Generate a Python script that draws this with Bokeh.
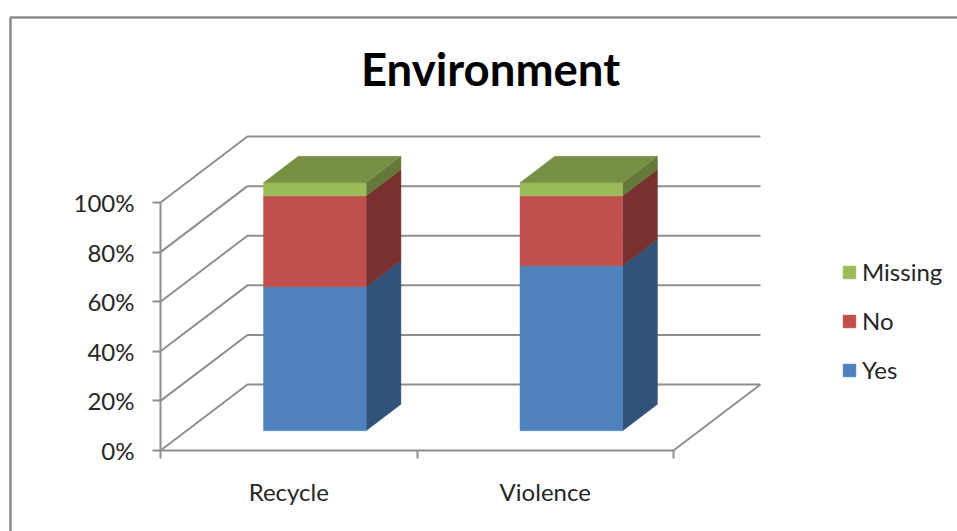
from bokeh.embed import file_html
from bokeh.resources import INLINE
from bokeh.plotting import figure
from bokeh.models import (BoxAnnotation, FixedTicker, Label, Legend, LegendItem,
                          PrintfTickFormatter)

categories = ["Recycle", "Violence"]
series_names = ["Yes", "No", "Missing"]
yes_values = [58.0, 66.5]
no_values = [36.7, 28.2]
missing_values = [5.3, 5.3]
y_ticks = [0, 20, 40, 60, 80, 100]

front_colors = ["#4F81BD", "#C0504D", "#9BBB59"]
side_colors = ["#325379", "#79302E", "#64783A"]
top_color = "#779044"
line_color = "#8E8E8E"
text_color = "#262626"
font = "Lato"
RULE_WIDTH = 2

# the frame fills the page; the axes are pinned at the origin of the data
X_RANGE = (-0.6238, 3.1072)
Y_RANGE = (-32.66, 181.45)
# oblique projection of the depth axis, in data units per unit of depth
DEPTH_X = 0.339
DEPTH_Y = 26.6
BAR_LEFT, BAR_RIGHT = 0.3, 0.7
BAR_NEAR, BAR_FAR = 0.3, 0.7


def project(x, y, z):
    return x + z * DEPTH_X, y + z * DEPTH_Y


def polygon(points):
    pts = [project(*pt) for pt in points]
    return [pt[0] for pt in pts], [pt[1] for pt in pts]


p = figure(width=957, height=531, x_range=X_RANGE, y_range=Y_RANGE,
           output_backend="svg", toolbar_location=None, min_border=0,
           background_fill_color="white", border_fill_color="white")
p.outline_line_color = None
p.grid.visible = False

# back wall and floor rules
for v in y_ticks:
    xs, ys = polygon([(0, v, 0), (0, v, 1), (len(categories), v, 1)])
    p.line(xs, ys, line_color=line_color, line_width=RULE_WIDTH)
xs, ys = polygon([(len(categories), 0, 0), (len(categories), 0, 1)])
p.line(xs, ys, line_color=line_color, line_width=RULE_WIDTH)

# stacked columns, bottom segment first
stacks = [yes_values, no_values, missing_values]
front_renderers = []
for s, values in enumerate(stacks):
    fx, fy, sx, sy = [], [], [], []
    for c in range(len(categories)):
        low = sum(stacks[k][c] for k in range(s))
        high = low + values[c]
        left, right = c + BAR_LEFT, c + BAR_RIGHT
        xs, ys = polygon([(left, low, BAR_NEAR), (right, low, BAR_NEAR),
                          (right, high, BAR_NEAR), (left, high, BAR_NEAR)])
        fx.append(xs)
        fy.append(ys)
        xs, ys = polygon([(right, low, BAR_NEAR), (right, low, BAR_FAR),
                          (right, high, BAR_FAR), (right, high, BAR_NEAR)])
        sx.append(xs)
        sy.append(ys)
    p.patches(sx, sy, fill_color=side_colors[s], line_color=side_colors[s], line_width=0.5)
    front_renderers.append(p.patches(fx, fy, fill_color=front_colors[s],
                                     line_color=front_colors[s], line_width=0.5))

# column lids
tx, ty = [], []
for c in range(len(categories)):
    high = sum(stack[c] for stack in stacks)
    left, right = c + BAR_LEFT, c + BAR_RIGHT
    xs, ys = polygon([(left, high, BAR_NEAR), (right, high, BAR_NEAR),
                      (right, high, BAR_FAR), (left, high, BAR_FAR)])
    tx.append(xs)
    ty.append(ys)
p.patches(tx, ty, fill_color=top_color, line_color=top_color, line_width=0.5)

# value axis
yaxis = p.yaxis[0]
yaxis.fixed_location = 0
yaxis.bounds = (0, 100)
yaxis.ticker = FixedTicker(ticks=y_ticks)
yaxis.formatter = PrintfTickFormatter(format="%d%%")
yaxis.axis_line_color = line_color
yaxis.axis_line_width = RULE_WIDTH
yaxis.major_tick_line_color = line_color
yaxis.major_tick_line_width = RULE_WIDTH
yaxis.major_tick_out = 8
yaxis.major_tick_in = 0
yaxis.minor_tick_line_color = None
yaxis.major_label_text_font = font
yaxis.major_label_text_font_size = "24px"
yaxis.major_label_text_color = text_color
yaxis.major_label_standoff = 18

# category axis: labels sit between the tick marks
xaxis = p.xaxis[0]
xaxis.fixed_location = 0
xaxis.bounds = (0, len(categories))
xaxis.ticker = FixedTicker(ticks=[c + 0.5 for c in range(len(categories))],
                           minor_ticks=list(range(len(categories) + 1)))
xaxis.major_label_overrides = {c + 0.5: name for c, name in enumerate(categories)}
xaxis.axis_line_color = line_color
xaxis.axis_line_width = RULE_WIDTH
xaxis.major_tick_line_color = None
xaxis.major_tick_out = 0
xaxis.major_tick_in = 0
xaxis.minor_tick_line_color = line_color
xaxis.minor_tick_line_width = RULE_WIDTH
xaxis.minor_tick_out = 8
xaxis.minor_tick_in = 0
xaxis.major_label_text_font = font
xaxis.major_label_text_font_size = "24px"
xaxis.major_label_text_color = text_color
xaxis.major_label_standoff = 18

legend = Legend(
    items=[LegendItem(label=series_names[i], renderers=[front_renderers[i]]) for i in (2, 1, 0)],
    location=(841, 147), orientation="vertical",
    glyph_width=16, glyph_height=16, label_standoff=5, spacing=20,
    label_text_font=font, label_text_font_size="24px", label_text_color=text_color,
    background_fill_alpha=0, border_line_color=None, margin=0, padding=0,
    label_height=26)
p.add_layout(legend, "center")

p.add_layout(Label(x=490, y=463, x_units="screen", y_units="screen", text="Environment",
                   text_font=font, text_font_size="45.5px", text_font_style="bold",
                   text_color="#000000", text_align="center", text_baseline="middle"))

# outer chart frame, running off the page on the right and at the bottom
p.add_layout(BoxAnnotation(left=10, right=990, top=17, bottom=560,
                           left_units="canvas", right_units="canvas",
                           top_units="canvas", bottom_units="canvas",
                           fill_alpha=0, line_color="#8A8A8A", line_alpha=1, line_width=2.5))

open("out.html", "w").write(file_html(p, INLINE))
